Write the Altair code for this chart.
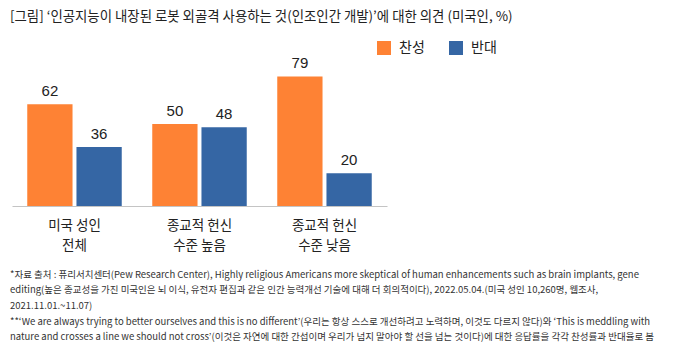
import altair as alt
import pandas as pd

categories = ["미국 성인\n전체", "종교적 헌신\n수준 높음", "종교적 헌신\n수준 낮음"]
series = ["찬성", "반대"]
agree = [62, 50, 79]
oppose = [36, 48, 20]
colors = ["#FE8234", "#3566A4"]

title_text = "[그림] ‘인공지능이 내장된 로봇 외골격 사용하는 것(인조인간 개발)’에 대한 의견 (미국인, %)"
notes = [
    "*자료 출처 : 퓨리서치센터(Pew Research Center), Highly religious Americans more skeptical of human enhancements such as brain implants, gene",
    "editing(높은 종교성을 가진 미국인은 뇌 이식, 유전자 편집과 같은 인간 능력개선 기술에 대해 더 회의적이다), 2022.05.04.(미국 성인 10,260명, 웹조사,",
    "2021.11.01.~11.07)",
    "**‘We are always trying to better ourselves and this is no different’(우리는 항상 스스로 개선하려고 노력하며, 이것도 다르지 않다)와 ‘This is meddling with",
    "nature and crosses a line we should not cross’(이것은 자연에 대한 간섭이며 우리가 넘지 말아야 할 선을 넘는 것이다)에 대한 응답률을 각각 찬성률과 반대율로 봄",
]

rows = []
for c, a, o in zip(categories, agree, oppose):
    rows.append({"cat": c, "series": series[0], "value": a})
    rows.append({"cat": c, "series": series[1], "value": o})
df = pd.DataFrame(rows)

KFONT = "Noto Sans CJK KR"

x = alt.X("cat:N", sort=categories, title=None,
          scale=alt.Scale(paddingInner=0, paddingOuter=0),
          axis=alt.Axis(labelExpr="split(datum.label, '\\n')", labelAngle=0,
                        ticks=False, domainColor="#c4c4c4", domainWidth=1.2,
                        labelFontSize=13.5, labelFont=KFONT, labelColor="#222222",
                        labelPadding=12, labelLineHeight=20))
xo = alt.XOffset("series:N", sort=series,
                 scale=alt.Scale(paddingInner=0.08, paddingOuter=0.31))
y = alt.Y("value:Q", scale=alt.Scale(domain=[0, 85.4]), axis=None)

base = alt.Chart(df)
bars = base.mark_bar().encode(
    x=x, xOffset=xo, y=y,
    color=alt.Color("series:N", sort=series,
                    scale=alt.Scale(domain=series, range=colors),
                    legend=alt.Legend(title=None, orient="none", legendX=365, legendY=-25,
                                      direction="horizontal", symbolType="square",
                                      symbolSize=196, symbolStrokeWidth=0,
                                      labelFontSize=14, labelFont=KFONT, labelColor="#222222",
                                      labelOffset=8, columnPadding=24)),
)
labels = base.mark_text(dy=-13, fontSize=15, font="Liberation Sans", color="#222222").encode(
    x=x, xOffset=xo, y=y, text="value:Q"
)

title = alt.Chart(pd.DataFrame({"t": [title_text]})).mark_text(
    align="left", baseline="middle", fontSize=13.4, font=KFONT, color="#222222"
).encode(x=alt.value(-2), y=alt.value(-49), text="t:N")

note_layers = [
    alt.Chart(pd.DataFrame({"t": [n]})).mark_text(
        align="left", baseline="middle", fontSize=9.5, font=KFONT, color="#333333"
    ).encode(x=alt.value(-2), y=alt.value(yy), text="t:N")
    for n, yy in zip(notes, [209, 224, 240, 256, 271])
]

chart = alt.layer(bars, labels, title, *note_layers).properties(
    width=375, height=140,
    autosize=alt.AutoSizeParams(type="none"),
    padding={"left": 12, "top": 66, "right": 294, "bottom": 142},
    background="white",
).configure_view(strokeWidth=0)

chart.save("out.html", embed_options={"renderer": "svg", "actions": False})
